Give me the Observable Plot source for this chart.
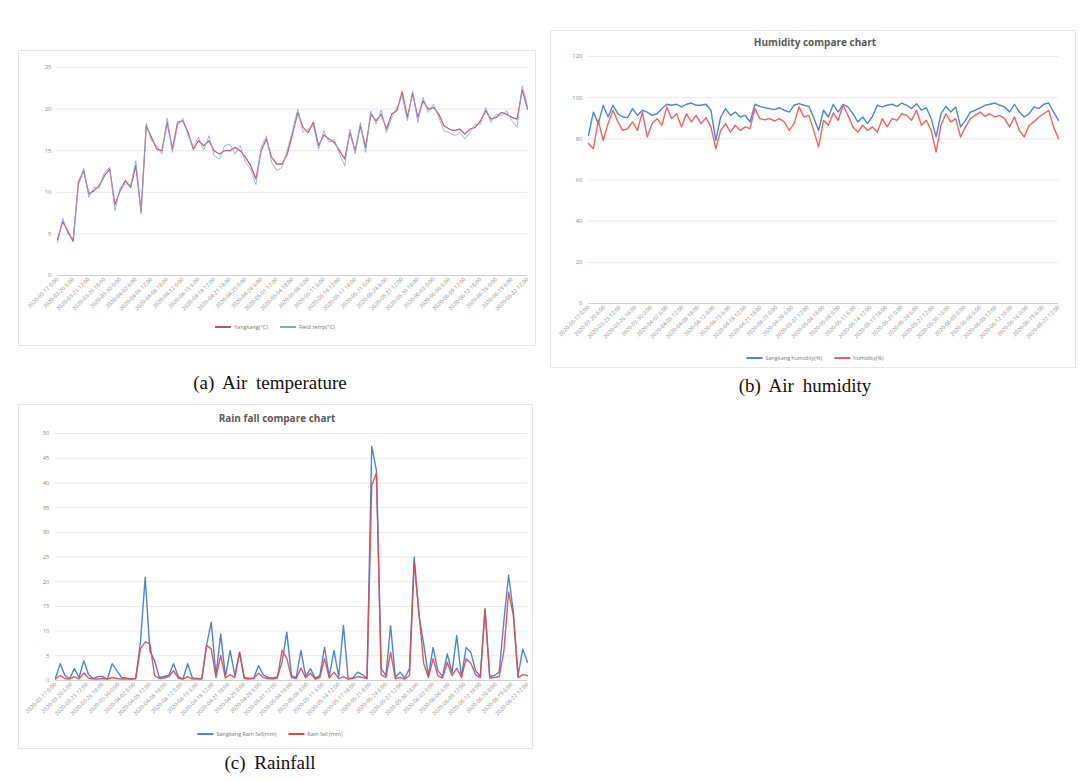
<!DOCTYPE html>
<html>
<head>
<meta charset="utf-8">
<script src="https://cdn.jsdelivr.net/npm/d3@7"></script>
<script src="https://cdn.jsdelivr.net/npm/@observablehq/plot@0.6"></script>
<style>
  html, body { margin:0; padding:0; background:#fff; }
  body { width:1086px; height:782px; position:relative; overflow:hidden; font-family:"Open Sans", "Noto Sans", sans-serif; }
  .box { position:absolute; border:1px solid #e6e6e6; box-sizing:border-box; }
  .abs { position:absolute; }
  .title { position:absolute; font-weight:bold; font-size:10px; color:#595959; transform:translateX(-50%); white-space:nowrap; }
  .caption { position:absolute; font-family:"Liberation Serif","DejaVu Serif",serif; font-size:19px; color:#111; transform:translateX(-50%); white-space:nowrap; word-spacing:4px; }
  .legend { position:absolute; font-size:5.5px; color:#777; white-space:nowrap; display:flex; align-items:center; gap:12px; transform:translateX(-50%); }
  .legend span.item { display:flex; align-items:center; gap:3px; }
  .legend i { display:inline-block; width:16px; height:1.5px; }
</style>
</head>
<body>
<script>
// ---------- data ----------
const tickLabels = [
  "2020-03-17 0:00","2020-03-20 6:00","2020-03-23 12:00","2020-03-26 18:00","2020-03-30 0:00",
  "2020-04-02 6:00","2020-04-05 12:00","2020-04-08 18:00","2020-04-12 0:00","2020-04-15 6:00",
  "2020-04-18 12:00","2020-04-21 18:00","2020-04-25 0:00","2020-04-28 6:00","2020-05-01 12:00",
  "2020-05-04 18:00","2020-05-08 0:00","2020-05-11 6:00","2020-05-14 12:00","2020-05-17 18:00",
  "2020-05-21 0:00","2020-05-24 6:00","2020-05-27 12:00","2020-05-30 18:00","2020-06-03 0:00",
  "2020-06-06 6:00","2020-06-09 12:00","2020-06-12 18:00","2020-06-16 0:00","2020-06-19 6:00",
  "2020-06-22 12:00"
];

// (a) Air temperature
const tempYangkang = [4.3,6.5,5.3,4.1,11.2,12.6,9.8,10.2,10.8,12.0,12.8,8.5,10.2,11.4,10.6,13.2,7.7,18.0,16.6,15.2,15.0,18.4,15.2,18.4,18.6,17.2,15.2,16.2,15.6,16.2,15.0,14.6,15.0,15.0,15.4,15.0,14.2,13.2,11.6,15.0,16.4,14.2,13.4,13.4,14.6,17.0,19.6,17.8,17.2,18.4,15.6,16.9,16.4,16.0,15.0,14.0,17.2,15.0,18.0,15.4,19.4,18.6,19.4,17.6,19.4,19.8,22.1,19.0,21.9,19.0,21.0,20.0,20.2,19.4,18.0,17.6,17.4,17.6,17.0,17.6,17.8,18.6,19.8,18.8,19.0,19.6,19.4,19.0,18.8,22.3,20.0];
const tempField = [3.9,6.9,5.0,4.4,10.8,12.9,9.4,10.6,10.5,12.4,13.0,7.8,10.6,11.0,10.9,13.8,7.4,18.3,16.2,15.6,14.6,18.9,14.8,18.0,18.9,16.8,15.6,16.6,15.1,16.8,14.4,14.0,15.6,15.8,14.6,15.6,13.6,12.8,10.9,15.4,16.8,13.6,12.6,13.0,15.0,17.4,20.0,17.2,17.6,18.0,15.2,17.4,16.0,16.4,14.6,13.2,17.6,14.6,18.4,14.8,19.8,18.2,19.9,17.2,19.0,20.2,21.6,18.6,22.2,18.4,21.4,19.6,20.6,19.0,17.4,17.2,16.8,17.2,16.4,17.2,18.2,18.2,20.2,18.4,19.4,19.2,19.8,18.6,17.8,22.8,20.4];
const tempTicks = [0,5,10,15,20,25];

// (b) Air humidity
const humSangkang = [81.7,93,87.4,96.3,90.6,96.3,92.2,90.6,90.3,94.7,91.4,93.9,93,91.4,92.2,94.7,96.8,96.3,96.8,95.5,96.8,97.4,96.3,96.3,96.8,93.9,79.3,90.6,94.7,91.4,93,90.6,91.4,88.2,96.8,95.8,95.1,94.7,94.2,95.1,93.9,93,96.3,97.1,96.3,95.8,90.3,84.1,93.9,90.6,96.8,93,96.8,95.5,92.2,88.2,90.6,87.4,90.9,96.3,95.5,96.3,96.8,95.8,97.4,96.3,94.7,97.1,93.9,95.1,89.8,80.9,92.2,95.8,93,95.5,85.8,89.0,93,93.9,95.1,96.3,96.8,97.4,96.3,95.5,93,96.8,93,90.6,92.2,95.5,94.7,96.8,97.4,93,89];
const humField = [77.7,75.2,89,79.3,87.4,93.9,88.2,84.1,85,88.2,84.1,93,80.9,87.4,89.8,86.6,95.5,89.8,92.2,85.8,92.2,88.2,91.4,87.4,90.3,85.8,75.2,84.1,87.4,83.3,86.6,84.1,85.8,85,94.7,89.8,89.3,89.8,88.7,89.8,88.2,84.1,87.4,95.5,90.6,91.4,84.1,76,89,86.6,92.6,89,96.3,91.4,85.8,83.3,86.6,84.1,85.8,83.3,89.8,85.8,89.8,89,92.2,91.4,89,93.9,86.6,89,84.1,73.6,86.6,92.2,88.2,89.8,80.9,85.8,89.8,91.4,93,90.9,92.2,90.6,91.4,89.8,85.8,90.6,84.1,80.9,86.6,88.2,90.6,92.2,93.9,85.8,80.1];
const humTicks = [0,20,40,60,80,100,120];

// (c) Rainfall
const rainSangkang = [0.5,3.4,1.0,0.4,2.4,0.6,4.0,1.2,0.4,0.8,0.8,0.3,3.4,2.0,0.6,0.5,0.3,0.4,7.8,20.9,6.0,4.0,0.6,0.8,1.0,3.4,0.8,0.3,3.4,0.5,0.4,0.3,7.1,11.8,1.0,9.4,0.8,6.1,1.0,5.7,0.6,0.4,0.5,3.0,1.2,0.6,0.5,0.8,3.7,9.8,1.0,0.6,6.1,0.8,2.4,0.5,1.0,6.7,0.8,6.1,0.8,11.1,0.4,0.5,1.7,1.2,0.4,47.4,42.5,2.4,1.0,11.1,0.6,1.7,0.5,2.4,25.0,13.2,7.4,1.0,6.7,2.0,0.8,5.4,1.6,9.1,0.8,6.7,5.7,2.0,0.8,14.5,0.8,1.0,1.7,12.1,21.3,13.8,1.0,6.4,3.7];
const rainField = [0.3,1.0,0.4,0.3,0.8,0.3,1.5,0.5,0.3,0.3,0.4,0.3,0.6,0.4,0.3,0.3,0.3,0.4,6.4,7.8,7.4,1.0,0.4,0.5,0.8,2.0,0.5,0.3,0.8,0.3,0.3,0.4,7.1,6.4,0.6,5.1,0.5,1.2,0.6,5.7,0.4,0.3,0.4,1.5,0.6,0.4,0.3,0.5,6.1,4.5,0.6,0.4,2.5,0.5,1.5,0.3,0.6,4.4,0.5,1.7,0.4,0.8,0.3,0.4,0.8,0.6,0.4,39.5,42.0,1.2,0.6,5.7,0.4,0.6,0.3,1.0,24.0,13.8,3.5,0.6,4.4,1.0,0.5,3.7,1.0,2.5,0.6,4.4,3.5,1.2,0.6,14.5,0.5,0.6,0.8,6.0,17.9,13.2,0.6,1.2,1.0];
const rainTicks = [0,5,10,15,20,25,30,35,40,45,50];

// ---------- helpers ----------
function place(el, left, top) {
  el.style.position = "absolute";
  el.style.left = left + "px";
  el.style.top = top + "px";
  document.body.appendChild(el);
}
function div(cls, text, left, top) {
  const d = document.createElement("div");
  d.className = cls;
  if (text) d.textContent = text;
  d.style.left = left + "px";
  d.style.top = top + "px";
  document.body.appendChild(d);
  return d;
}
function box(l, t, w, h) {
  const d = div("box", "", l, t);
  d.style.width = w + "px"; d.style.height = h + "px";
}
function legend(items, cx, top) {
  const d = div("legend", "", cx, top);
  items.forEach(([label, color]) => {
    const s = document.createElement("span"); s.className = "item";
    const i = document.createElement("i"); i.style.background = color;
    s.appendChild(i); s.appendChild(document.createTextNode(label));
    d.appendChild(s);
  });
}
function chart({series, yTicks, width, height, marginLeft, marginRight, marginTop, marginBottom}) {
  const N = series[0].values.length;
  const rows = [];
  series.forEach(s => s.values.forEach((v, i) => rows.push({i, v, name: s.name})));
  const pos = tickLabels.map((_, k) => k * (N - 1) / (tickLabels.length - 1));
  const marks = [
    Plot.gridY(yTicks, {stroke: "#e9e9e9", strokeOpacity: 1}),
    Plot.ruleY([0], {stroke: "#d0d0d0"}),
    Plot.axisY(yTicks, {tickSize: 0, fontSize: 6, fill: "#8c8c8c", label: null, tickPadding: 6}),
    Plot.axisX(pos, {tickSize: 0, tickRotate: -45, fontSize: 5.5, fill: "#8c8c8c", label: null, tickPadding: 3,
      tickFormat: d => tickLabels[Math.round(d * (tickLabels.length - 1) / (N - 1))]})
  ];
  series.forEach(s => {
    marks.push(Plot.line(rows.filter(r => r.name === s.name), {x: "i", y: "v", stroke: s.color, strokeWidth: s.width, strokeOpacity: s.opacity}));
  });
  return Plot.plot({
    width, height, marginLeft, marginRight, marginTop, marginBottom,
    x: {domain: [0, N - 1]},
    y: {domain: [yTicks[0], yTicks[yTicks.length - 1]]},
    style: {background: "transparent", fontFamily: "Open Sans, sans-serif"},
    marks
  });
}

// ---------- (a) ----------
box(18, 50, 518, 296);
place(chart({
  series: [
    {name: "Yangkang(°C)", values: tempYangkang, color: "#c0505a", width: 1.3, opacity: 0.9},
    {name: "Field temp(°C)", values: tempField, color: "#7fa7dc", width: 1, opacity: 0.8}
  ],
  yTicks: tempTicks, width: 515, height: 265,
  marginLeft: 37, marginRight: 8, marginTop: 15, marginBottom: 42
}), 20, 52);
legend([["Yangkang(°C)", "#c0505a"], ["Field temp(°C)", "#7fa7dc"]], 275, 323);
div("caption", "(a) Air temperature", 270, 372);

// ---------- (b) ----------
box(550, 30, 526, 338);
div("title", "Humidity compare chart", 815, 35);
place(chart({
  series: [
    {name: "Sangkang humidity(%)", values: humSangkang, color: "#4a86d1", width: 1.4, opacity: 1},
    {name: "humidity(%)", values: humField, color: "#f05a5a", width: 1.4, opacity: 0.95}
  ],
  yTicks: humTicks, width: 525, height: 298,
  marginLeft: 38, marginRight: 17, marginTop: 8, marginBottom: 43
}), 550, 48);
legend([["Sangkang humidity(%)", "#4a86d1"], ["humidity(%)", "#f05a5a"]], 815, 354);
div("caption", "(b) Air humidity", 805, 375);

// ---------- (c) ----------
box(18, 404, 515, 345);
div("title", "Rain fall compare chart", 277, 411);
place(chart({
  series: [
    {name: "Sangkang Rain fall(mm)", values: rainSangkang, color: "#4a86d1", width: 1.4, opacity: 1},
    {name: "Rain fall (mm)", values: rainField, color: "#e2474a", width: 1.4, opacity: 0.9}
  ],
  yTicks: rainTicks, width: 512, height: 300,
  marginLeft: 35, marginRight: 5, marginTop: 8, marginBottom: 45
}), 20, 425);
legend([["Sangkang Rain fall(mm)", "#4a86d1"], ["Rain fall (mm)", "#e2474a"]], 270, 730);
div("caption", "(c) Rainfall", 270, 752);
</script>
</body>
</html>
